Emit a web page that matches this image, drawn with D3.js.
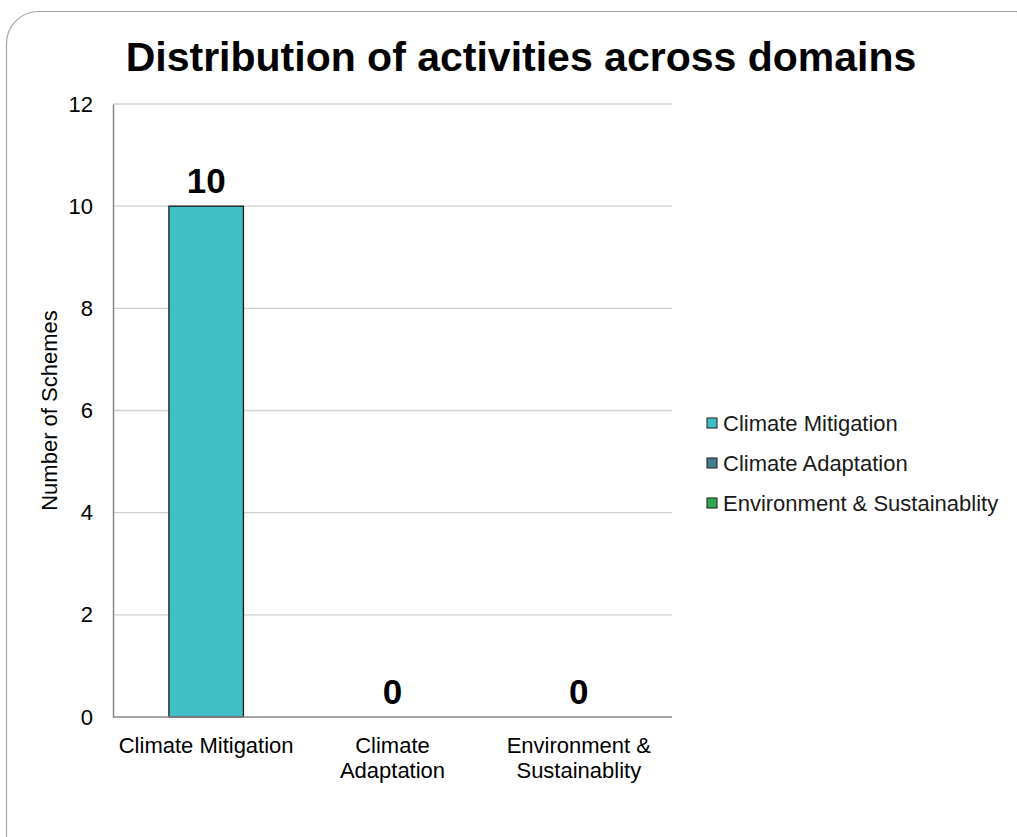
<!DOCTYPE html>
<html><head><meta charset="utf-8">
<script src="https://cdn.jsdelivr.net/npm/d3@7"></script>
<style>body{margin:0;background:#fff;}svg{display:block;font-family:"Liberation Sans",Arial,sans-serif;}</style>
</head><body>
<svg id="c" width="1017" height="837"></svg>
<script>
const categories = ["Climate Mitigation", "Climate Adaptation", "Environment & Sustainablity"];
const categoryLabelLines = [["Climate Mitigation"], ["Climate", "Adaptation"], ["Environment &", "Sustainablity"]];
const values = [10, 0, 0];
const colors = ["#40BFC6", "#44808F", "#33A852"];
const yTicks = [0, 2, 4, 6, 8, 10, 12];
const title = "Distribution of activities across domains";
const yTitle = "Number of Schemes";

const FF = '"Liberation Sans",Arial,sans-serif';
const svg = d3.select("#c");
// rounded frame
svg.append("rect").attr("x", 6.5).attr("y", 11.5).attr("width", 1040).attr("height", 860)
  .attr("rx", 32).attr("fill", "#fff").attr("stroke", "#a6a6a6").attr("stroke-width", 1.2);

const m = {left: 113, right: 672, top: 104, bottom: 717};
const x = d3.scaleBand().domain(categories).range([m.left, m.right]).paddingInner(0.6).paddingOuter(0.3);
const y = d3.scaleLinear().domain([0, 12]).range([m.bottom, m.top]);

// gridlines
svg.append("g").selectAll("line").data(yTicks.filter(d => d > 0)).join("line")
  .attr("x1", m.left).attr("x2", m.right).attr("y1", d => y(d)).attr("y2", d => y(d))
  .attr("stroke", "#d0d0d0").attr("stroke-width", 1.3);

// y axis
const yAxis = svg.append("g").attr("transform", `translate(${m.left},0)`)
  .call(d3.axisLeft(y).tickValues(yTicks).tickSize(0).tickPadding(20));
yAxis.select(".domain").attr("stroke", "#868686").attr("stroke-width", 1.5);
yAxis.selectAll("text").attr("font-size", 22).attr("fill", "#000").attr("font-family", FF);

// bars
svg.append("g").selectAll("rect").data(categories).join("rect")
  .attr("x", d => x(d)).attr("width", x.bandwidth())
  .attr("y", (d, i) => y(values[i])).attr("height", (d, i) => y(0) - y(values[i]))
  .attr("fill", (d, i) => colors[i]).attr("stroke", "#1a1a1a").attr("stroke-width", 1.3)
  .style("display", (d, i) => values[i] > 0 ? null : "none");

// x axis line
svg.append("line").attr("x1", m.left).attr("x2", m.right).attr("y1", y(0)).attr("y2", y(0))
  .attr("stroke", "#868686").attr("stroke-width", 1.5);

// value labels
svg.append("g").selectAll("text").data(categories).join("text")
  .attr("x", d => x(d) + x.bandwidth() / 2).attr("y", (d, i) => y(values[i]) - 13)
  .attr("text-anchor", "middle").attr("font-size", 35).attr("font-weight", "bold").attr("fill", "#000")
  .text((d, i) => values[i]);

// category labels
const cl = svg.append("g").selectAll("text").data(categories).join("text")
  .attr("x", d => x(d) + x.bandwidth() / 2).attr("y", 753)
  .attr("text-anchor", "middle").attr("font-size", 22).attr("fill", "#000");
cl.each(function(d, i) {
  d3.select(this).selectAll("tspan").data(categoryLabelLines[i]).join("tspan")
    .attr("x", x(d) + x.bandwidth() / 2).attr("dy", (t, j) => j === 0 ? 0 : 25).text(t => t);
});

// y title
svg.append("text").attr("transform", `translate(57,${(m.top + m.bottom) / 2}) rotate(-90)`)
  .attr("text-anchor", "middle").attr("font-size", 22).attr("fill", "#000").text(yTitle);

// title
svg.append("text").attr("x", 521).attr("y", 71).attr("text-anchor", "middle")
  .attr("font-size", 41).attr("font-weight", "bold").attr("fill", "#000").text(title);

// legend
const lg = svg.append("g").selectAll("g").data(categories).join("g")
  .attr("transform", (d, i) => `translate(707,${423 + i * 40})`);
lg.append("rect").attr("x", 0).attr("y", -5).attr("width", 10).attr("height", 10)
  .attr("fill", (d, i) => colors[i]).attr("stroke", "#1a1a1a").attr("stroke-width", 1);
lg.append("text").attr("x", 16).attr("y", 0).attr("dy", "0.35em").attr("font-size", 22).attr("fill", "#1a1a1a").text(d => d);
</script>
</body></html>
